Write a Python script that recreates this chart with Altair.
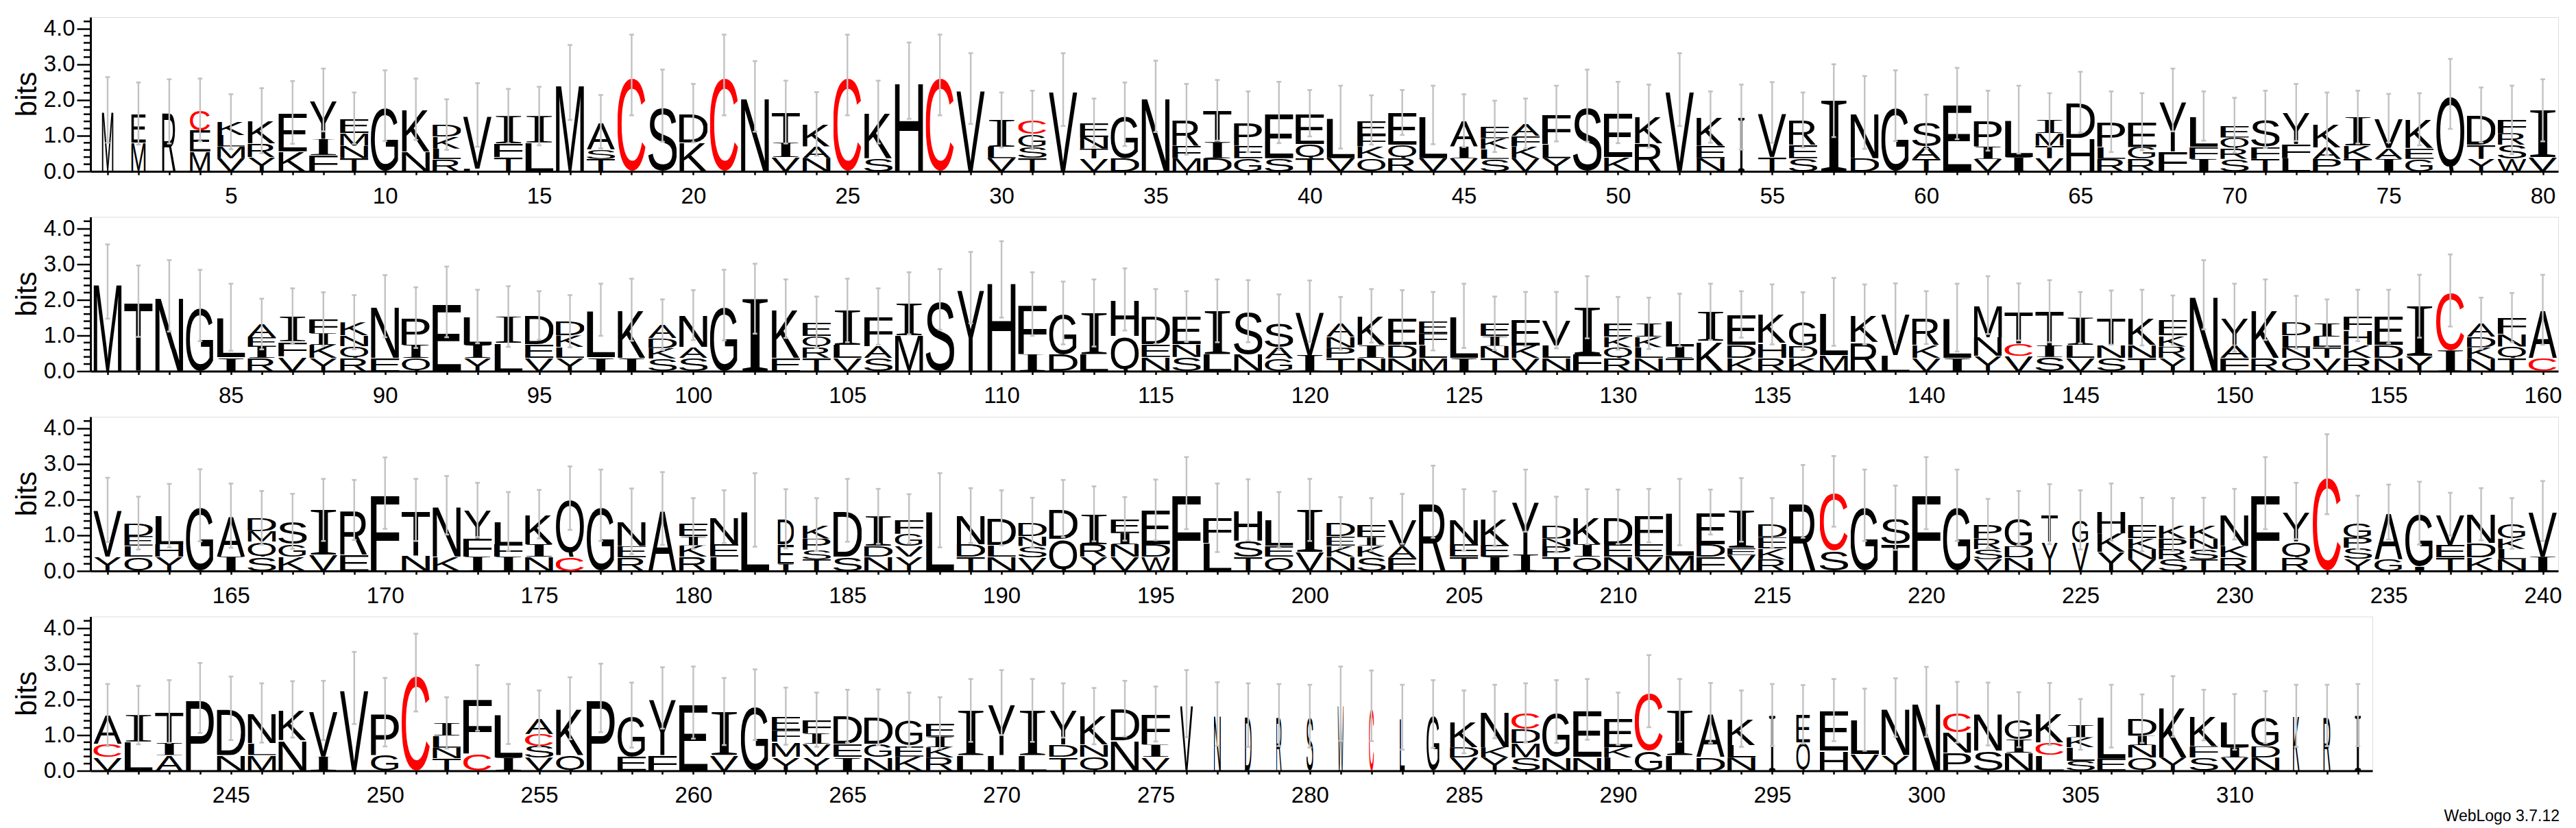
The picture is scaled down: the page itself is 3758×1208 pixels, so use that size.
import urllib.parse
import altair as alt
import pandas as pd

# ---------------- data ----------------
ROW_FIRST = [1, 81, 161, 241]
ROW_LAST = [80, 160, 240, 314]

# each stack: letters bottom -> top, letter followed by its height in bits
stacks_row1 = [
    "M1.72", "M.8 E.82", "R1.68", "M.55 E.6 C.57", "V.37 M.33 L.32 K.37",
    "Y.4 R.38 K.64", "K.56 E1.09", "F.46 I.45 Y1.09", "T.37 N.35 M.35 E.42", "G1.84",
    "N.55 K1.19", "R.34 L.3 K.33 D.34", "L.07 V1.51", "T.4 F.38 I.77", "L.81 I.74",
    "M2.49", "T.35 S.27 A.77", "C2.7", "S1.84", "K.81 D.82",
    "C2.7", "N2.1", "V.4 I.4 T.86", "N.37 A.33 K.63", "C2.7",
    "S.37 K1.29", "H2.54", "C2.7", "V2.32", "V.37 L.32 I.75",
    "T.37 S.32 G.35 C.4", "V2.29", "V.36 T.28 N.32 E.4", "D.37 G1.23", "N2.1",
    "M.37 F.35 R.74", "D.37 I.45 T.89", "G.37 E.35 P.67", "S.37 E1.28", "T.37 Q.4 E.86",
    "V.37 L1.15", "Q.37 K.33 F.32 E.42", "R.37 Q.37 E.91", "V.37 L1.21", "V.37 I.33 A.72",
    "S.35 L.28 K.3 E.33", "V.37 K.33 F.3 A.34", "Y.37 L.4 F.85", "S1.84", "K.4 E1.25",
    "R.78 K.77", "V2.29", "N.37 E.35 K.8", "I1.52", "T.4 V1.25",
    "S.37 E.38 R.69", "I1.98", "D.37 N1.28", "G1.84", "T.35 A.35 S.69",
    "E1.9", "V.35 I.35 P.72", "I.4 L1.05", "V.37 T.35 M.35 I.37", "H.94 D1.0",
    "R.35 L.34 P.7", "R.35 G.33 E.71", "F.56 Y1.44", "I.35 F.34 L.86", "S.35 R.3 Q.3 E.34",
    "T.35 F.34 S.77", "L.37 F.4 Y.88", "P.35 A.32 K.66", "T.35 K.38 I.79", "I.35 A.31 V.83",
    "G.35 E.31 K.8", "Q2.17", "Y.35 T.4 D.83", "W.35 S.4 R.32 F.37", "V.4 I1.31",
]
stacks_row2 = [
    "M2.51", "T1.96", "N2.11", "G1.84", "I.39 L1.12",
    "R.37 I.31 E.27 A.37", "V.42 F.42 I.7", "Y.37 K.37 I.32 F.4", "R.37 Q.33 N.3 K.37", "E.37 N1.45",
    "Q.37 I.37 P.76", "E1.94", "Y.37 I.37 L.79", "L.79 I.74", "V.37 E.38 D.81",
    "Y.37 L.31 K.32 D.4", "I.39 L1.33", "I.37 K1.35", "S.35 K.3 D.28 A.37", "S.37 A.31 N.89",
    "G1.85", "I2.03", "E.37 K1.38", "T.37 R.31 Q.3 E.39", "V.37 L.37 I.96",
    "S.37 A.33 F.83", "M1.01 I.89", "S2.01", "Y2.34", "H2.57",
    "I.47 F1.41", "D.47 G1.16", "L.47 I1.16", "Q.99 H1.02", "N.4 E.35 D.78",
    "S.4 N.35 E.78", "L.47 I1.22", "N.47 S1.21", "G.35 A.32 S.7", "I.45 V1.23",
    "T.37 P.29 N.31 A.37", "N.37 I.36 K.82", "N.37 D.36 E.77", "M.37 L.36 F.33 E.34", "I.37 L1.18",
    "T.37 N.34 I.27 E.36", "V.37 K.35 E.74", "N.37 L.35 V.71", "F.47 I1.32", "R.37 Q.3 K.3 E.37",
    "N.37 L.3 K.3 I.37", "T.37 I.32 L.74", "K.85 I.81", "K.37 D.36 E.86", "R.37 H.42 K.8",
    "K.37 D.34 G.69", "M.45 L1.21", "R.82 K.77", "L.45 V1.18", "V.37 K.36 R.77",
    "I.37 L1.13", "Y.43 N.52 M.9", "V.43 C.34 T.89", "S.4 I.32 T.96", "V.37 L.36 I.77",
    "S.37 N.36 T.77", "T.37 N.36 K.77", "Y.37 R.32 K.31 E.43", "N2.14", "F.37 A.36 Y.77",
    "R.37 K1.35", "Q.37 N.29 L.34 D.37", "V.37 T.31 L.29 I.37", "R.37 K.36 H.42 F.41", "N.37 D.36 E.8",
    "Y.43 I1.39", "I.58 C1.68", "N.35 K.32 D.3 A.37", "T.37 Q.32 N.35 F.46", "C.37 A1.35",
]
stacks_row3 = [
    "Y.4 V1.31", "Q.4 L.31 E.27 D.36", "Y.4 H.35 L.8", "G1.84", "I.4 A1.15",
    "S.4 Q.42 M.3 D.37", "K.4 G.35 S.64", "V.46 I1.25", "E.46 R1.25", "F2.18",
    "N.43 T1.28", "K.4 N1.44", "I.4 F.51 Y.8", "I.4 F.35 L.64", "N.4 I.35 K.84",
    "C.4 Q1.64", "G1.84", "R.38 E.32 N.69", "A1.75", "R.4 K.32 I.25 E.36",
    "L.4 E.35 N.77", "L1.71", "I.2 E.55 D.71", "T.33 S.26 P.32 K.39", "S.4 D1.3",
    "N.4 D.31 I.82", "Y.4 V.31 G.33 F.42", "L1.7", "T.4 D.35 N.8", "N.4 L.32 D.77",
    "V.38 S.32 N.28 D.38", "Q.9 D.85", "Y.4 R.35 I.85", "V.4 N.35 I.31 E.4", "W.4 D.35 E.96",
    "F2.18", "L.78 F.71", "T.4 S.45 H.86", "Q.4 E.31 L.72", "V.53 I1.18",
    "N.4 K.31 E.26 D.39", "S.4 K.31 I.24 E.35", "E.37 A.33 V.76", "R1.94", "T.4 E.35 N.68",
    "I.4 E.33 K.73", "I.46 Y1.51", "T.4 P.29 N.22 D.39", "Q.4 I.35 K.77", "N.4 E.35 D.77",
    "V.4 E.35 F.8", "M.43 L1.22", "F.4 D.35 E.9", "V.45 E.2 I1.06", "R.33 K.3 E.32 D.39",
    "R1.95", "S.56 C1.67", "G1.84", "T.76 S.73", "F2.18",
    "G1.84", "V.33 S.28 R.3 P.42", "N.38 D.32 G.79", "Y.82 T.77", "V.8 G.63",
    "Y.53 K.52 H.6", "V.33 N.29 K.3 E.38", "S.33 R.29 P.29 K.39", "T.33 S.29 N.29 K.39", "R.38 K.32 N.89",
    "F2.18", "R.38 Q.45 Y.85", "C2.71", "Y.33 S.32 P.29 G.42", "G.33 A1.32",
    "I.12 G1.5", "T.38 E.35 V.86", "K.38 D.4 N.81", "N.33 L.29 K.29 G.42", "I.4 V1.28",
]
stacks_row4 = [
    "V.39 C.36 A.81", "L.82 I.74", "A.44 I.35 T.87", "P2.04", "N.44 D1.31",
    "M.44 L.33 N.85", "N.86 K.86", "I.4 V1.29", "V2.32", "G.44 P1.2",
    "C2.75", "T.35 N.3 L.33 I.36", "C.48 F1.56", "I.37 L1.22", "V.37 S.33 C.33 A.43",
    "Q.44 K1.31", "P2.04", "E.4 G1.16", "F.44 Y1.6", "E1.91",
    "V.44 I1.22", "G1.85", "Y.39 M.42 F.33 E.39", "Y.39 V.36 I.3 F.38", "I.39 E.36 D.78",
    "N.39 G.36 D.75", "K.4 E.3 G.73", "R.37 K.29 I.3 E.38", "L.44 I1.25", "L.44 Y1.47",
    "L.44 I1.25", "T.39 D.34 Y.96", "Q.39 N.34 K.8", "N.85 D.89", "V.39 I.34 F.86",
    "V1.88", "N1.59", "D1.56", "R1.56", "S1.53",
    "W1.88", "C1.82", "L1.5", "G1.59", "V.37 D.29 K.71",
    "Y.37 K.29 N1.0", "S.37 M.4 D.4 C.45", "N.39 G1.27", "N.39 E1.33", "L.37 K.29 E.8",
    "G.56 C1.67", "L.44 I1.25", "D.39 A1.23", "N.37 L.35 K.74", "I1.56",
    "Q.79 E.79", "H.56 E1.14", "V.47 L.96", "Y.44 N1.33", "N1.93",
    "P.5 N.58 C.56", "S.56 N1.03", "N.5 I.38 G.55", "L.44 C.35 K.8", "S.28 L.38 K.28 I.36",
    "E.34 L1.19", "Q.37 N.35 I.26 D.48", "Y.37 K1.43", "S.37 F.32 K.87", "V.37 I.29 L.71",
    "N.37 D.32 G.81", "K1.54", "R1.55", "I1.56",
]

# half-length of the grey error bar at each position (bits)
errors_row1 = [
    .92, .87, .9, .88, .77, .91, .88, .88, .72, .99, .86, .71, .89, .76, .82, 1.05, .75, 1.13, 1.01, .82,
    1.13, .99, .88, .89, 1.13, .88, 1.07, 1.13, .99, .77, .82, 1.02, .68, .89, 1.0, .99, .85, .85, .86, .65,
    .88, .69, .63, .82, .74, .72, .7, .78, 1.01, .86, .88, 1.02, .72, .91, .85, .77, 1.02, 1.02, .99, .76,
    1.0, .84, .95, .75, .85, .85, .8, .88, .69, .77, .8, .8, .88, .74, .68, .73, .98, .77, .96, .87,
]
errors_row2 = [
    1.04, 1.0, 1.0, 1.0, .94, .71, .78, .75, .76, .87, .85, .99, .75, .85, .68, .73, .73, .87, .71, .7,
    .99, .98, .82, .72, .89, .79, .87, .85, 1.0, 1.07, .89, .88, .94, .87, .77, .71, .88, .87, .78, .86,
    .74, .75, .77, .82, .9, .75, .76, .79, .87, .74, .72, .74, .79, .65, .84, .81, .95, .84, .83, .74,
    .95, .81, .8, .87, .72, .76, .78, .69, .97, .95, .85, .74, .67, .72, .75, .88, 1.01, .72, .69, .98,
]
errors_row3 = [
    .9, .74, .89, 1.01, .9, .75, .77, .87, .84, 1.0, .87, .82, .76, .82, .68, .89, 1.0, .92, 1.02, .71,
    .74, 1.03, .83, .74, .88, .77, .69, 1.04, .77, .77, .69, .8, .77, .61, .85, 1.01, .96, .86, .78, .87,
    .71, .74, .7, 1.01, .86, .77, .87, .78, .77, .76, .75, .93, .63, .89, .7, 1.02, .99, 1.0, .9, 1.01,
    1.0, .69, .75, .84, .83, .8, .75, .74, .75, .71, 1.01, .79, 1.12, .75, .77, .88, .6, .73, .71, .84,
]
errors_row4 = [
    .87, .82, .88, .98, .89, .83, .79, .83, 1.01, .96, 1.09, .72, .92, .84, .79, .87, .96, .91, .86, 1.01,
    .94, .99, .8, .76, .74, .78, .76, .72, .88, .91, .88, .76, .79, .78, .77, .94, .89, .89, .87, .88,
    1.04, .99, .91, .95, .88, .75, .83, .88, .85, .73, 1.01, .88, .84, .79, .87, .82, .87, .87, .82, .98,
    .85, .88, .77, .87, .71, .88, .68, .85, .71, .78, .73, .87, .86, .87,
]

# stacks drawn narrower than normal (fraction of a column)
narrow_widths = {
    1: .38, 2: .47, 3: .47, 4: .66, 5: .9, 54: .23, 183: .53, 224: .54, 225: .54,
    276: .41, 277: .24, 278: .22, 279: .19, 280: .22, 281: .2, 282: .17, 283: .17,
    284: .43, 295: .23, 296: .45, 312: .22, 313: .25, 314: .22,
}

y_major_values = [0, 1, 2, 3, 4]
y_minor_values = [round(0.2 * k, 1) for k in range(22) if k % 5]
fineprint = ["WebLogo 3.7.12"]

# ---------------- glyphs ----------------
FULL_W = 0.92
RED = "#ff0000"
BLACK = "#000000"
ERR_GREY = "#c2c2c2"
FONT = "Liberation Sans"

# approximate ink boxes of the glyphs at font-size 1000: (left, right, bottom, top)
INK = {
    "A": (-1, 668, 0, 716), "C": (50, 690, -14, 730), "D": (79, 669, 0, 716),
    "E": (79, 604, 0, 716), "F": (82, 557, 0, 716), "G": (48, 730, -14, 730),
    "H": (80, 642, 0, 716), "K": (73, 667, 0, 716), "L": (73, 522, 0, 716),
    "M": (74, 758, 0, 716), "N": (76, 645, 0, 716), "P": (80, 620, 0, 716),
    "Q": (42, 737, -56, 730), "R": (79, 715, 0, 716), "S": (46, 618, -14, 730),
    "T": (24, 589, 0, 716), "V": (5, 663, 0, 716), "W": (13, 933, 0, 716),
    "Y": (4, 663, 0, 716), "I": (18, 315, 0, 662),
}


def glyph_url(ch):
    x0, x1, y0, y1 = INK[ch]
    fam = "Liberation Serif" if ch == "I" else FONT
    col = RED if ch == "C" else BLACK
    w, h = x1 - x0, y1 - y0
    svg = (
        f"<svg xmlns='http://www.w3.org/2000/svg' width='{w}' height='{h}' "
        f"viewBox='{x0} {-y1} {w} {h}' preserveAspectRatio='none'>"
        f"<text x='0' y='0' font-family='{fam}' font-size='1000' fill='{col}'>{ch}</text></svg>"
    )
    return "data:image/svg+xml;charset=utf-8," + urllib.parse.quote(svg)


URLS = {ch: glyph_url(ch) for ch in INK}

all_stacks = [stacks_row1, stacks_row2, stacks_row3, stacks_row4]
all_errors = [errors_row1, errors_row2, errors_row3, errors_row4]

letters, bars = [], []
for r in range(4):
    for i, (s, e) in enumerate(zip(all_stacks[r], all_errors[r])):
        pos = ROW_FIRST[r] + i
        w = narrow_widths.get(pos, FULL_W)
        y0 = 0.0
        for tok in s.split():
            ch, hgt = tok[0], float(tok[1:])
            letters.append(dict(row=r, pos=pos, ch=ch, x=pos - w / 2, x2=pos + w / 2,
                                y=y0, y2=y0 + hgt, url=URLS[ch]))
            y0 += hgt
        bars.append(dict(row=r, pos=pos, lo=y0 - e, hi=y0 + e, cx=pos - 0.075, cx2=pos + 0.075))

letters_df = pd.DataFrame(letters)
bars_df = pd.DataFrame(bars)
minor_df = pd.DataFrame({"v": y_minor_values})

PX_PER_POS = 44.97
Y_MAX = 4.32
PLOT_H = 225


def row_chart(r):
    first, last = ROW_FIRST[r], ROW_LAST[r]
    lo = first - 0.556
    hi = first + 79.5 if r < 3 else last + 0.47
    width = round((hi - lo) * PX_PER_POS)
    xs = alt.Scale(domain=[lo, hi], nice=False, zero=False)
    ys = alt.Scale(domain=[0, Y_MAX], nice=False, zero=False)
    xaxis = alt.Axis(
        values=list(range(first, last + 1)), format="d",
        labelExpr="datum.value % 5 === 0 ? datum.label : ''",
        tickSize=5, tickWidth=2.5, tickColor="black",
        domainWidth=3, domainColor="black",
        labelFont=FONT, labelFontSize=33, labelColor="black", labelPadding=15,
        labelFlush=False, labelOverlap=False, grid=False, title=None,
    )
    yaxis = alt.Axis(
        values=y_major_values, format=".1f",
        tickSize=20, tickWidth=2.5, tickColor="black", domainWidth=3, domainColor="black",
        labelFont=FONT, labelFontSize=33, labelColor="black", labelPadding=3,
        labelFlush=False, labelOverlap=False, grid=False,
        title="bits", titleFont=FONT, titleFontSize=42, titleFontWeight="normal",
        titleColor="black", titleAngle=270, titleX=-80, titleY=112,
        titleAlign="center", titleBaseline="alphabetic",
    )
    ld = letters_df[letters_df.row == r]
    bd = bars_df[bars_df.row == r]
    glyphs = alt.Chart(ld).mark_image(aspect=False).encode(
        x=alt.X("x:Q", scale=xs, axis=xaxis), x2="x2:Q",
        y=alt.Y("y:Q", scale=ys, axis=yaxis), y2="y2:Q",
        url=alt.Url("url:N"),
    )
    minors = alt.Chart(minor_df).mark_rule(color="black", strokeWidth=2.5).encode(
        x=alt.value(-10), x2=alt.value(0),
        y=alt.Y("v:Q", scale=ys),
    )
    stems = alt.Chart(bd).mark_rule(color=ERR_GREY, strokeWidth=2.4).encode(
        x=alt.X("pos:Q", scale=xs), y=alt.Y("lo:Q", scale=ys), y2="hi:Q",
    )
    cap_lo = alt.Chart(bd).mark_rule(color=ERR_GREY, strokeWidth=2.6).encode(
        x=alt.X("cx:Q", scale=xs), x2="cx2:Q", y=alt.Y("lo:Q", scale=ys),
    )
    cap_hi = alt.Chart(bd).mark_rule(color=ERR_GREY, strokeWidth=2.6).encode(
        x=alt.X("cx:Q", scale=xs), x2="cx2:Q", y=alt.Y("hi:Q", scale=ys),
    )
    layers = [glyphs, stems, cap_lo, cap_hi, minors]
    if r == 3:
        fp = alt.Chart(pd.DataFrame({"t": fineprint})).mark_text(
            align="right", baseline="alphabetic", font=FONT, fontSize=23, color="black"
        ).encode(text="t:N", x=alt.value(3602), y=alt.value(298.5))
        layers.append(fp)
    return alt.layer(*layers).properties(width=width, height=PLOT_H)


chart = alt.vconcat(*[row_chart(r) for r in range(4)], spacing=66.5, bounds="flush").properties(
    padding={"left": 9, "top": 16, "right": 5, "bottom": 0}
).configure_view(strokeWidth=0).configure(font=FONT, background="white")

chart.save("out.html", embed_options={"renderer": "svg", "actions": False})
